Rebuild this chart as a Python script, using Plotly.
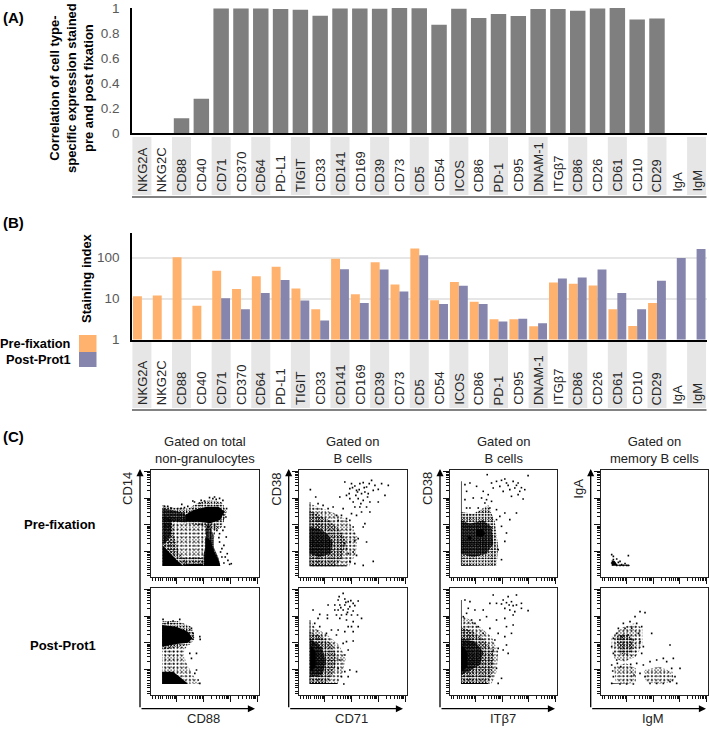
import plotly.graph_objects as go

W, H = 709, 729
FONT = "Liberation Sans"

markers = ["NKG2A","NKG2C","CD88","CD40","CD71","CD370","CD64","PD-L1","TIGIT","CD33","CD141","CD169","CD39","CD73","CD5",
           "CD54","ICOS","CD86","PD-1","CD95","DNAM-1","ITGβ7","CD86","CD26","CD61","CD10","CD29","IgA","IgM"]
positions = list(range(len(markers)))
correlation = [0,0,0.118,0.275,0.997,0.997,0.997,0.992,0.987,0.939,0.997,0.997,0.995,1.0,0.998,
               0.866,0.995,0.92,0.952,0.936,0.992,0.992,0.979,0.997,1.0,0.909,0.917,0,0]
pre_fixation = [11.4,11.8,102,6.7,48,17,35,60,17.5,5.5,93,12.8,77,22,166,9.1,25.5,8.4,3.1,3.1,2.1,24.6,23,20.8,5.5,2.15,7.8,None,None]
post_prot1 = [None,None,None,None,10.2,5.5,13.7,28.5,8.9,2.9,52,7.8,51,14.8,114,7.4,20.4,7.4,2.75,3.2,2.5,30.8,32.5,51,13.7,5.5,27,98,163]

major_ticks = [77,157,237,317]
minor_ticks = [4,12,22,29,35,45,53,59,65,69,73,101,115,125,133,139,145,149,153,181,195,205,213,219,225,229,233,261,275,285,293,299,305,309,313]

# panel contents: solid = black regions, dense/medium/light = stippled regions, dots = single events
p1_solid = [[(102,186),(127,201),(167,211),(202,211),(220,196),(207,171),(177,161),(142,166),(102,166)],
            [(34,96),(52,76),(77,51),(97,33),(34,33)],
            [(97,33),(97,38),(150,40),(160,33)],
            [(162,118),(178,112),(187,80),(202,50),(207,33),(160,33),(162,70)]]
p1_dense = [[(34,206),(62,201),(102,191),(102,164),(62,168),(34,176)],
            [(172,161),(187,126),(187,91),(202,56),(207,33),(157,33),(157,66),(167,106),(162,141)],
            [(34,180),(62,172),(60,130),(50,110),(34,96)]]
p1_medium = [[(34,215),(70,208),(110,205),(140,222),(176,232),(212,224),(226,195),(212,150),(196,140),(130,158),(66,165),(34,170)],
             [(34,175),(62,168),(70,120),(85,70),(120,33),(34,33)],
             [(97,60),(150,60),(165,33),(97,33)]]
p1_light = [[(34,187),(131,167),(196,160),(185,100),(165,33),(100,33),(34,100)]]
p1_dots = [(228,70),(240,40),(218,95),(225,120),(205,130),(220,150),(185,235),(160,228),(130,225),(100,208),(80,205),(50,212),(40,212),(215,230),
           (235,38),(222,60),(212,85),(230,50),(205,105),(215,140),(125,228),(145,222),(175,238),(195,233),(90,206),(60,207),(224,180),(226,205),
           (212,60),(218,42),(208,75),(203,118),(197,140),(92,218),(110,212),(150,230),(190,240),(205,236)]

p2_solid = [[(32,32),(142,32),(142,35),(34,35),(34,225),(32,225)]]
p2_dense = [[(32,150),(60,145),(85,130),(100,105),(95,70),(60,60),(32,70)]]
p2_medium = [[(32,200),(50,190),(90,170),(120,145),(140,110),(130,60),(110,32),(32,32)]]
p2_light = [[(32,220),(70,205),(110,190),(150,165),(175,120),(170,70),(150,32),(32,32)]]
p2_dots = [(137,285),(157,280),(152,265),(167,273),(182,280),(192,283),(202,270),(217,290),(227,275),(247,280),(267,275),(172,260),(187,250),
           (197,255),(207,250),(222,260),(237,263),(257,245),(142,245),(152,235),(162,225),(177,235),(192,230),(212,225),(237,225),(167,210),
           (182,210),(202,210),(132,205),(122,240),(50,240),(34,262),(72,215),(87,205),(102,210),(57,220),(127,185),(157,190),(172,185),(187,195),
           (212,195),(152,170),(197,160),(192,150),(162,150),(142,175),(177,115),(167,110),(152,105),(202,105),(147,70),(162,75),(172,65),(222,47),
           (192,35),(167,40),(152,47),(142,85),(137,100),(112,185),(117,170),(160,268),(175,255),(195,268),(210,280),(180,262),(205,240),(170,245),(150,250),(185,220)]

p3_solid = [[(32,33),(115,33),(115,36),(34,36),(34,225),(32,225)],[(34,150),(50,130),(50,85),(34,70)]]
p3_dense = [[(33,170),(70,140),(80,100),(70,60),(33,55)]]
p3_medium = [[(32,190),(70,175),(100,150),(115,110),(100,60),(80,33),(32,33)]]
p3_light = [[(32,225),(50,200),(85,180),(120,150),(140,110),(130,65),(115,33),(32,33)]]
p3_dots = [(132,305),(117,285),(137,288),(147,280),(162,275),(177,282),(107,270),(122,270),(137,270),(152,265),(167,268),(107,255),(117,255),(132,255),
           (147,258),(162,252),(112,240),(127,240),(142,242),(157,240),(175,240),(187,230),(87,270),(42,255),(62,242),(85,240),(85,230),(122,230),(142,225),
           (162,220),(177,205),(157,205),(147,205),(117,195),(137,190),(162,190),(112,180),(97,195),(57,230),(47,215),(62,205),(82,185),(132,155),(142,160),
           (162,162),(147,135),(137,120),(122,105),(152,75),(172,70),(137,70),(127,55),(147,55),(134,33),(117,80),(125,262),(140,278),(155,283),(120,295),(145,248)]

p4_solid = [[(33,34),(140,34),(140,36),(35,36),(35,287),(33,287)],[(78,142),(98,145),(106,130),(95,120),(78,122)],[(54,122),(64,122),(64,112),(54,112)]]
p4_dense = [[(33,170),(60,160),(100,170),(125,150),(130,100),(110,70),(70,60),(33,70)]]
p4_medium = [[(33,195),(70,190),(115,215),(135,165),(145,90),(140,34),(33,34)]]
p4_dots = [(125,282),(140,287),(165,294),(190,287),(205,282),(235,304),(112,307),(130,267),(150,272),(170,282),(180,262),(195,267),(210,257),(225,262),(160,257),
           (185,242),(205,247),(220,234),(45,277),(60,282),(80,272),(50,257),(45,232),(70,237),(95,237),(110,232),(125,227),(60,207),(85,207),(120,207),(140,202),
           (150,182),(165,192),(180,172),(200,192),(140,172),(155,152),(170,132),(165,107),(155,52),(145,82),(50,207),(105,222),(115,247),(100,257),(175,275),(155,290),(200,275),(215,268)]

p5_solid = [[(33,33),(115,33),(115,36),(35,36),(35,285),(33,285)],[(35,150),(52,130),(52,85),(35,70)]]
p5_dense = [[(33,170),(75,160),(100,130),(90,90),(33,60)]]
p5_medium = [[(33,205),(70,190),(105,165),(130,130),(125,60),(110,33),(33,33)]]
p5_light = [[(33,240),(70,220),(125,175),(145,130),(140,70),(125,33),(33,33)]]
p5_dots = [(140,275),(130,300),(175,295),(200,300),(120,275),(155,273),(170,277),(185,280),(200,270),(215,275),(235,253),(165,260),(180,255),(195,250),(215,260),(190,240),
           (45,285),(60,280),(55,260),(75,255),(100,255),(40,235),(65,225),(90,225),(110,235),(140,225),(165,230),(170,205),(190,210),(85,205),(120,200),(145,185),(165,175),
           (185,185),(170,150),(160,135),(145,140),(175,125),(130,135),(125,95),(140,80),(155,50),(145,35),(120,55),(50,245),(75,215),(100,185),(135,165),(178,270),(160,285),(190,268)]

p6_solid = [[(33,34),(87,34),(87,36),(50,37),(42,48),(33,50)]]
p6_dots = [(33,67),(38,62),(48,54),(83,64),(38,44),(33,42),(36,37),(43,40),(53,44),(63,37),(73,40),(83,35),(48,35),(58,35),(68,35),(78,35),(38,52),(58,47)]

p7_solid = [[(33,210),(76,205),(111,190),(124,170),(111,157),(76,153),(33,145)],[(33,70),(66,70),(91,50),(111,33),(33,33)]]
p7_medium = [[(33,222),(80,222),(120,205),(132,170),(115,150),(33,135)]]
p7_light = [[(33,145),(106,145),(96,125),(106,95),(131,50),(146,33),(33,33)]]
p7_dots = [(146,175),(147,167),(86,227),(66,222),(36,227),(51,217),(121,200),(126,185),(136,125),(121,110),(136,75),(141,45),(131,65),(146,35),(116,125)]

p8_solid = [[(33,33),(105,33),(105,35),(33,35)]]
p8_medium = [[(45,175),(70,185),(95,170),(100,140),(80,120),(55,125)]]
p8_light = [[(33,175),(60,200),(100,215),(125,200),(125,150),(105,115),(70,100),(40,110),(33,140)],
            [(40,85),(75,95),(105,80),(105,40),(75,33),(45,40)],[(130,75),(175,85),(215,70),(220,40),(170,33),(135,40)]]
p8_dots = [(118,250),(133,247),(103,235),(88,220),(108,215),(123,205),(153,185),(208,150),(128,145),(123,125),(48,185),(33,145),(38,125),(48,105),(33,90),(38,55),(33,35),
           (128,90),(148,100),(168,105),(188,110),(198,100),(218,110),(238,80),(223,55),(228,35),(208,40),(213,80),(133,55),(108,95),(118,65),(58,33),(78,33),(98,33),(148,35),
           (168,35),(188,35),(68,215),(53,200),(73,200),(93,200),(113,185),(38,170),(63,175),(83,180),(98,165),(118,160),(36,72),(50,95),(60,85),(90,92),(100,60)]

panels = [
    dict(col=0,row=0,solid=p1_solid,dense=p1_dense,medium=p1_medium,light=p1_light,dots=p1_dots),
    dict(col=1,row=0,solid=p2_solid,dense=p2_dense,medium=p2_medium,light=p2_light,dots=p2_dots),
    dict(col=2,row=0,solid=p4_solid,dense=p4_dense,medium=p4_medium,light=[],dots=p4_dots),
    dict(col=3,row=0,solid=p6_solid,dense=[],medium=[],light=[],dots=p6_dots),
    dict(col=0,row=1,solid=p7_solid,dense=[],medium=p7_medium,light=p7_light,dots=p7_dots),
    dict(col=1,row=1,solid=p3_solid,dense=p3_dense,medium=p3_medium,light=p3_light,dots=p3_dots),
    dict(col=2,row=1,solid=p5_solid,dense=p5_dense,medium=p5_medium,light=p5_light,dots=p5_dots),
    dict(col=3,row=1,solid=p8_solid,dense=[],medium=p8_medium,light=p8_light,dots=p8_dots),
]

col_left = [151, 299, 450, 600.7]
col_right = [258.7, 406.7, 557, 708]
row_top = [470, 588]
row_bot = [577, 695]
col_titles = ["Gated on total<br>non-granulocytes","Gated on<br>B cells","Gated on<br>B cells","Gated on<br>memory B cells"]
x_names = ["CD88","CD71","ITβ7","IgM"]
y_names = ["CD14","CD38","CD38","IgA"]
x_arrow_base = [140, 288.7, 440, 590.7]
x_arrow_tip = [255, 403, 555, 706]

def px(x): return x / W
def py(y): return 1 - y / H

fig = go.Figure()
layout = dict(template="none", width=W, height=H, autosize=False, margin=dict(l=0,r=0,t=0,b=0,pad=0), paper_bgcolor="white", plot_bgcolor="rgba(0,0,0,0)",
              showlegend=False, font=dict(family=FONT, color="#222"), barmode="group", bargap=0.1, bargroupgap=0)
annotations, shapes = [], []

# full-page hidden axes carry all free text
layout["xaxis20"] = dict(domain=[0,1], range=[0,W], visible=False, anchor="y20", automargin=False)
layout["yaxis20"] = dict(domain=[0,1], range=[H,0], visible=False, anchor="x20", automargin=False)
fig.add_trace(go.Scatter(x=[None], y=[None], xaxis="x20", yaxis="y20", hoverinfo="skip"))

def text(x, y, s, size=13, color="black", bold=False, angle=0, xanchor="center", yanchor="middle", align="center"):
    annotations.append(dict(x=x, y=y, xref="x20", yref="y20", text=s, showarrow=False, textangle=angle, xanchor=xanchor, yanchor=yanchor,
                            align=align, font=dict(family=FONT, size=size, color=color, weight="bold" if bold else "normal")))

grey_bar = "#7F7F7F"
fig.add_trace(go.Bar(x=positions, y=correlation, marker=dict(color=grey_bar, line=dict(width=0)), width=0.78, xaxis="x", yaxis="y", hoverinfo="skip"))
fig.add_trace(go.Bar(x=positions, y=pre_fixation, marker=dict(color="#FFB26E", line=dict(width=0)), xaxis="x2", yaxis="y2", name="Pre-fixation", hoverinfo="skip"))
fig.add_trace(go.Bar(x=positions, y=post_prot1, marker=dict(color="#8585AD", line=dict(width=0)), xaxis="x2", yaxis="y2", name="Post-Prot1", hoverinfo="skip"))

plot_left, plot_right = 132, 706.5
layout["xaxis"] = dict(domain=[px(plot_left), px(plot_right)], range=[-0.5,28.5], anchor="y", showticklabels=False, ticks="", showgrid=False, zeroline=False,
                       showline=True, linecolor="black", linewidth=1.5, automargin=False)
layout["yaxis"] = dict(domain=[py(133), py(8)], range=[0,1], anchor="x", tickvals=[0,0.2,0.4,0.6,0.8,1], ticktext=["0","0.2","0.4","0.6","0.8","1"],
                       ticks="outside", ticklen=8, tickcolor="rgba(0,0,0,0)", tickfont=dict(size=13.5, color="#595959", family=FONT),
                       showgrid=False, zeroline=False, showline=True, linecolor="black", linewidth=1.5, automargin=False)
layout["xaxis2"] = dict(domain=[px(plot_left), px(plot_right)], range=[-0.5,28.5], anchor="y2", showticklabels=False, ticks="", showgrid=False, zeroline=False,
                        showline=True, linecolor="black", linewidth=1.5, automargin=False)
layout["yaxis2"] = dict(domain=[py(339.5), py(233)], type="log", range=[0,2.6], anchor="x2", tickvals=[1,10,100], ticktext=["1","10","100"],
                        ticks="outside", ticklen=8, tickcolor="rgba(0,0,0,0)", tickfont=dict(size=13.5, color="#595959", family=FONT),
                        showgrid=True, gridcolor="#E6E6E6", gridwidth=1.5, zeroline=False, showline=True, linecolor="black", linewidth=1.5, automargin=False)

for axis, strip_top, strip_bot, rule in (("x",137,195,197),("x2",342,408,410)):
    for i, name in enumerate(markers):
        if i % 2 == 0:
            shapes.append(dict(type="rect", xref=axis, yref="paper", x0=i-0.48, x1=i+0.48, y0=py(strip_bot), y1=py(strip_top), fillcolor="#E6E6E6", line=dict(width=0), layer="below"))
        annotations.append(dict(x=i, y=strip_bot-1, xref=axis, yref="y20", text=name, showarrow=False, textangle=-90, xanchor="center", yanchor="bottom",
                                font=dict(family=FONT, size=13, color="#262626")))
    shapes.append(dict(type="line", xref="paper", yref="paper", x0=px(plot_left), x1=px(plot_right), y0=py(rule), y1=py(rule), line=dict(color="#595959", width=1.5)))

text(1, 17, "(A)", size=15, bold=True, xanchor="left")
text(1, 222, "(B)", size=15, bold=True, xanchor="left")
text(1, 436, "(C)", size=15, bold=True, xanchor="left")
text(71, 88, "Correlation of cell type-<br>specific expression stained<br>pre and post fixation", size=13, bold=True, angle=-90)
text(86, 278, "Staining index", size=13, bold=True, angle=-90)
text(73, 343, "Pre-fixation", size=12.8, bold=True, xanchor="right")
text(73, 359, "Post-Prot1", size=12.8, bold=True, xanchor="right")
shapes.append(dict(type="rect", xref="paper", yref="paper", x0=px(79), x1=px(96.5), y0=py(352), y1=py(335), fillcolor="#FFB26E", line=dict(width=0)))
shapes.append(dict(type="rect", xref="paper", yref="paper", x0=px(79), x1=px(96.5), y0=py(367), y1=py(352), fillcolor="#8585AD", line=dict(width=0)))
text(98, 524, "Pre-fixation", size=13, bold=True, xanchor="right")
text(98, 645, "Post-Prot1", size=13, bold=True, xanchor="right")

# two overlaid dot screens of different pitch, so the stipple reads as speckle rather than a grid
pattern_styles = dict(dense=[(2.1,0.5),(2.9,0.5)], medium=[(2.3,0.22),(3.1,0.25)], light=[(3.1,0.13),(4.1,0.16)])

for n, p in enumerate(panels):
    idx = n + 3
    xa, ya = f"x{idx}", f"y{idx}"
    c, r = p["col"], p["row"]
    axis_common = dict(showticklabels=False, ticks="outside", ticklen=6, tickwidth=1, tickcolor="#111", tickvals=major_ticks,
                       minor=dict(tickvals=minor_ticks, ticks="outside", ticklen=3, tickwidth=0.8, tickcolor="#111"), automargin=False,
                       showgrid=False, zeroline=False, showline=True, mirror=True, linecolor="#222", linewidth=1.2)
    layout[f"xaxis{idx}"] = dict(domain=[px(col_left[c]), px(col_right[c])], range=[0,322], anchor=ya, **axis_common)
    layout[f"yaxis{idx}"] = dict(domain=[py(row_bot[r]), py(row_top[r])], range=[0,321], anchor=xa, **axis_common)
    for kind in ("light","medium","dense"):
        for poly in p[kind]:
            for size, sol in pattern_styles[kind]:
                fig.add_trace(go.Scatter(x=[q[0] for q in poly], y=[q[1] for q in poly], mode="lines", line=dict(width=0), fill="toself",
                                         fillcolor="rgba(0,0,0,0)", fillpattern=dict(shape=".", size=size, solidity=sol, fgcolor="black", bgcolor="rgba(0,0,0,0)", fgopacity=1),
                                         xaxis=xa, yaxis=ya, hoverinfo="skip"))
    for poly in p["solid"]:
        fig.add_trace(go.Scatter(x=[q[0] for q in poly], y=[q[1] for q in poly], mode="lines", line=dict(width=0), fill="toself", fillcolor="black",
                                 xaxis=xa, yaxis=ya, hoverinfo="skip"))
    fig.add_trace(go.Scatter(x=[q[0] for q in p["dots"]], y=[q[1] for q in p["dots"]], mode="markers", marker=dict(symbol="square", size=1.6, color="black"),
                             xaxis=xa, yaxis=ya, hoverinfo="skip"))

for c in range(4):
    mid = (col_left[c] + col_right[c]) / 2
    text(mid, 450, col_titles[c], size=13, color="#222")
    text(mid-1, 718, x_names[c], size=13, color="#222")
    text(x_arrow_base[c]-13, 489, y_names[c], size=13, color="#222", angle=-90)
    base = x_arrow_base[c]
    annotations.append(dict(x=base, y=469, xref="x20", yref="y20", ax=base, ay=708.7, axref="x20", ayref="y20", text="", showarrow=True,
                            arrowhead=2, arrowsize=1.1, arrowwidth=1.3, arrowcolor="black"))
    annotations.append(dict(x=x_arrow_tip[c], y=708.7, xref="x20", yref="y20", ax=base, ay=708.7, axref="x20", ayref="y20", text="", showarrow=True,
                            arrowhead=2, arrowsize=1.1, arrowwidth=1.3, arrowcolor="black"))

layout["annotations"] = annotations
layout["shapes"] = shapes
fig.update_layout(**layout)
fig.write_html("out.html", config={"displayModeBar": False},
               post_script="document.documentElement.style.margin='0';document.body.style.margin='0';document.body.style.padding='0';"
                           "document.documentElement.style.overflow='hidden';document.body.style.overflow='hidden';"
                           "var d=document.querySelector('.plotly-graph-div');d.style.position='fixed';d.style.left='0';d.style.top='0';")
